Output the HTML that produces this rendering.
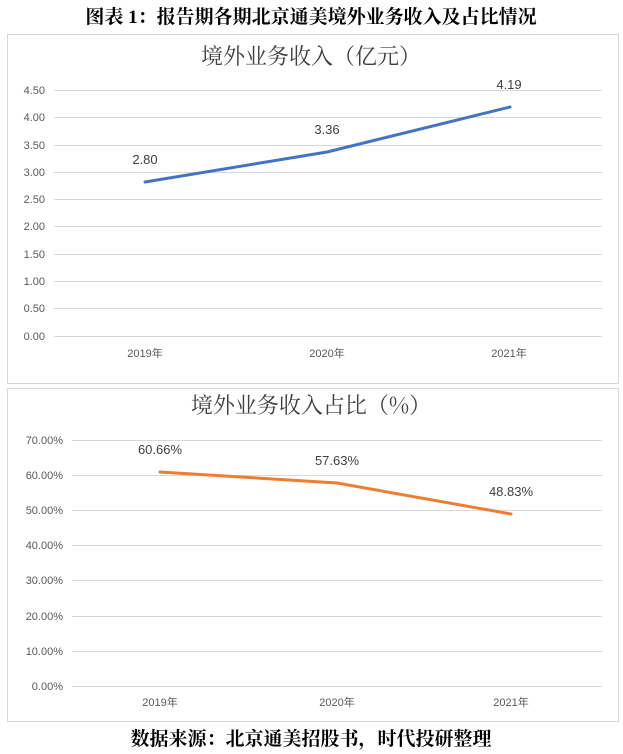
<!DOCTYPE html>
<html><head><meta charset="utf-8"><style>
body{margin:0;background:#fff;width:623px;height:754px;overflow:hidden;font-family:"Liberation Sans","Noto Sans CJK SC",sans-serif}
</style></head><body>
<svg width="623" height="754" xmlns="http://www.w3.org/2000/svg" style="position:absolute;left:0;top:0">
<text x="311" y="23" text-anchor="middle" font-family="Liberation Serif,Noto Serif CJK SC,serif" font-weight="bold" font-size="19" fill="#000">图表 1：报告期各期北京通美境外业务收入及占比情况</text>
<rect x="7.5" y="34.5" width="611" height="349" fill="#fff" stroke="#d9d9d9"/>
<text x="311" y="64" text-anchor="middle" font-family="Noto Serif CJK SC,serif" font-size="22" fill="#404040">境外业务收入（亿元）</text>
<g stroke="#d9d9d9" stroke-width="1">
<line x1="54" x2="602" y1="90.5" y2="90.5"/><line x1="54" x2="602" y1="117.5" y2="117.5"/><line x1="54" x2="602" y1="145.5" y2="145.5"/><line x1="54" x2="602" y1="172.5" y2="172.5"/><line x1="54" x2="602" y1="199.5" y2="199.5"/><line x1="54" x2="602" y1="226.5" y2="226.5"/><line x1="54" x2="602" y1="254.5" y2="254.5"/><line x1="54" x2="602" y1="281.5" y2="281.5"/><line x1="54" x2="602" y1="308.5" y2="308.5"/><line x1="54" x2="602" y1="336.5" y2="336.5"/>
</g>
<g font-size="11" fill="#595959" text-anchor="end">
<text x="45" y="94">4.50</text><text x="45" y="121">4.00</text><text x="45" y="149">3.50</text><text x="45" y="176">3.00</text><text x="45" y="203">2.50</text><text x="45" y="230">2.00</text><text x="45" y="258">1.50</text><text x="45" y="285">1.00</text><text x="45" y="312">0.50</text><text x="45" y="340">0.00</text>
</g>
<g font-size="11" fill="#595959" text-anchor="middle">
<text x="145" y="357">2019年</text><text x="327" y="357">2020年</text><text x="509" y="357">2021年</text>
</g>
<polyline points="145,182 327,152 510,107" fill="none" stroke="#4472c4" stroke-width="3" stroke-linecap="round" stroke-linejoin="round"/>
<g font-size="13" fill="#404040" text-anchor="middle">
<text x="145" y="164">2.80</text><text x="327" y="134">3.36</text><text x="509" y="89">4.19</text>
</g>
<rect x="7.5" y="388.5" width="611" height="333" fill="#fff" stroke="#d9d9d9"/>
<text x="311" y="413" text-anchor="middle" font-family="Noto Serif CJK SC,serif" font-size="22" fill="#404040">境外业务收入占比（%）</text>
<g stroke="#d9d9d9" stroke-width="1">
<line x1="72" x2="602" y1="440.5" y2="440.5"/><line x1="72" x2="602" y1="475.5" y2="475.5"/><line x1="72" x2="602" y1="510.5" y2="510.5"/><line x1="72" x2="602" y1="545.5" y2="545.5"/><line x1="72" x2="602" y1="580.5" y2="580.5"/><line x1="72" x2="602" y1="616.5" y2="616.5"/><line x1="72" x2="602" y1="651.5" y2="651.5"/><line x1="72" x2="602" y1="686.5" y2="686.5"/>
</g>
<g font-size="11" fill="#595959" text-anchor="end">
<text x="63" y="444">70.00%</text><text x="63" y="479">60.00%</text><text x="63" y="514">50.00%</text><text x="63" y="549">40.00%</text><text x="63" y="584">30.00%</text><text x="63" y="620">20.00%</text><text x="63" y="655">10.00%</text><text x="63" y="690">0.00%</text>
</g>
<g font-size="11" fill="#595959" text-anchor="middle">
<text x="160" y="706">2019年</text><text x="337" y="706">2020年</text><text x="511" y="706">2021年</text>
</g>
<polyline points="160,472 337,483 511,514" fill="none" stroke="#ed7d31" stroke-width="3" stroke-linecap="round" stroke-linejoin="round"/>
<g font-size="13" fill="#404040" text-anchor="middle">
<text x="160" y="454">60.66%</text><text x="337" y="465">57.63%</text><text x="511" y="496">48.83%</text>
</g>
<text x="311" y="745" text-anchor="middle" font-family="Liberation Serif,Noto Serif CJK SC,serif" font-weight="bold" font-size="19" fill="#000">数据来源：北京通美招股书，时代投研整理</text>
</svg>
</body></html>
